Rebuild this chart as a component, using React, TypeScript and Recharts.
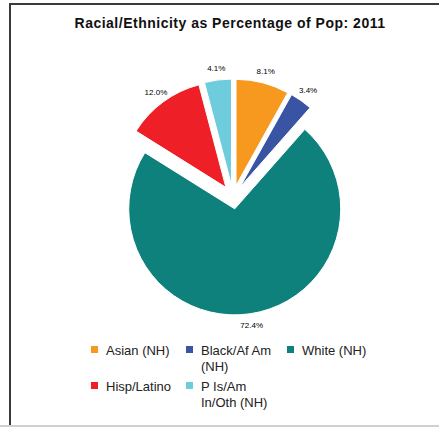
import { PieChart, Pie, Cell, Sector, Legend } from 'recharts';

const categories = ['Asian (NH)', 'Black/Af Am (NH)', 'White (NH)', 'Hisp/Latino', 'P Is/Am In/Oth (NH)'];
const shares = [8.1, 3.4, 72.4, 12.0, 4.1];
const colors = ['#F7981F', '#3A54A4', '#0F817C', '#EE1F26', '#6FCCDD'];

const data = categories.map((name, i) => ({ name, value: shares[i] }));

const RADIAN = Math.PI / 180;
const EXPLODE = 12;

// pull each slice outwards along its mid angle
function ExplodedSector(props: any) {
  const dx = EXPLODE * Math.cos(-props.midAngle * RADIAN);
  const dy = EXPLODE * Math.sin(-props.midAngle * RADIAN);
  return <Sector {...props} cx={props.cx + dx} cy={props.cy + dy} stroke="#fff" strokeWidth={1} />;
}

function renderLabel(props: any) {
  const { cx, cy, midAngle, outerRadius, value } = props;
  const r = outerRadius + 24;
  const x = cx + r * Math.cos(-midAngle * RADIAN);
  const y = cy + r * Math.sin(-midAngle * RADIAN);
  return (
    <text x={x} y={y} textAnchor="middle" dominantBaseline="central" fontSize={8} fill="#000" fontFamily="Liberation Sans, Arial, sans-serif">
      {value.toFixed(1)}%
    </text>
  );
}

function LegendContent({ payload }: any) {
  // keep the data order, not alphabetical
  const items = [...(payload || [])].sort(
    (a: any, b: any) => categories.indexOf(a.value) - categories.indexOf(b.value),
  );
  return (
    <div
      style={{
        display: 'grid',
        gridTemplateColumns: '95px 101px 110px',
        rowGap: 5,
        fontFamily: 'Liberation Sans, Arial, sans-serif',
        fontSize: 13,
        lineHeight: '15.5px',
        color: '#222',
      }}
    >
      {items.map((entry: any) => (
        <div key={entry.value} style={{ display: 'flex', alignItems: 'flex-start' }}>
          <span style={{ width: 7, height: 7, background: entry.color, marginTop: 3, marginRight: 8, flex: 'none' }} />
          <span style={{ width: 82 }}>{entry.value}</span>
        </div>
      ))}
    </div>
  );
}

export default function App() {
  return (
    <div style={{ position: 'absolute', left: 0, top: 0, width: 439, height: 427, background: '#fff' }}>
      <div style={{ position: 'absolute', left: 9, top: 3, width: 430, height: 2, background: '#3a3a3a' }} />
      <div style={{ position: 'absolute', left: 9, top: 3, width: 2, height: 423, background: '#3a3a3a' }} />
      <div style={{ position: 'absolute', left: 0, top: 425, width: 439, height: 2, background: '#d0d0d0' }} />
      <div
        style={{
          position: 'absolute',
          left: 0,
          top: 15,
          width: 460,
          textAlign: 'center',
          fontFamily: 'Liberation Sans, Arial, sans-serif',
          fontWeight: 'bold',
          fontSize: 14,
          letterSpacing: 0.5,
          color: '#111',
        }}
      >
        Racial/Ethnicity as Percentage of Pop: 2011
      </div>
      <div style={{ position: 'absolute', left: 0, top: 0 }}>
        <PieChart width={439} height={427}>
          <Pie
            data={data}
            dataKey="value"
            nameKey="name"
            cx={228}
            cy={192}
            outerRadius={106}
            startAngle={90}
            endAngle={-270}
            stroke="#fff"
            shape={ExplodedSector}
            label={renderLabel}
            labelLine={false}
            isAnimationActive={false}
          >
            {data.map((d, i) => (
              <Cell key={d.name} fill={colors[i]} />
            ))}
          </Pie>
          <Legend
            content={<LegendContent />}
            wrapperStyle={{ position: 'absolute', left: 91, top: 343, width: 330, bottom: 'auto' }}
          />
        </PieChart>
      </div>
    </div>
  );
}
